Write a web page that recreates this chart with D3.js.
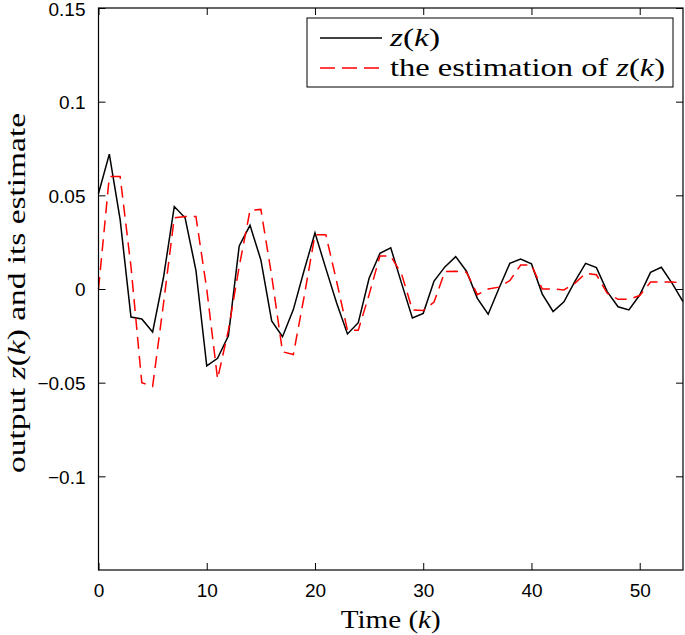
<!DOCTYPE html>
<html>
<head>
<meta charset="utf-8">
<script src="https://cdn.jsdelivr.net/npm/d3@7"></script>
<style>
html,body{margin:0;padding:0;background:#fff;}
svg{display:block;}
</style>
</head>
<body>
<svg id="chart" width="685" height="635"></svg>
<script>
// ---- data ----
const timeSteps = d3.range(0, 55);
const zValues = [0.051,0.072,0.037,-0.015,-0.016,-0.023,0.006,0.044,0.038,0.010,
  -0.041,-0.037,-0.025,0.023,0.034,0.0155,-0.017,-0.0255,-0.011,0.010,
  0.030,0.011,-0.0075,-0.024,-0.018,0.0057,0.019,0.022,0.003,-0.0155,
  -0.0130,0.0042,0.0118,0.0173,0.0095,-0.005,-0.0135,0.0004,0.0137,0.016,
  0.0134,-0.0027,-0.012,-0.0068,0.0039,0.0137,0.0114,-0.0014,-0.0095,-0.0112,
  -0.0032,0.0089,0.0116,0.003,-0.0068];
const zEstimate = [0,0.060,0.060,0.012,-0.050,-0.052,-0.008,0.038,0.0387,0.0387,
  0.000,-0.048,-0.022,0.012,0.042,0.0425,0.007,-0.0335,-0.035,-0.004,
  0.029,0.029,0.004,-0.022,-0.022,-0.003,0.0176,0.0176,0.008,-0.0112,
  -0.0115,-0.007,0.0093,0.0095,0.009,-0.003,0.000,0.001,0.0045,0.0128,
  0.0128,0.000,0.000,-0.0005,0.003,0.0084,0.0076,-0.0023,-0.0055,-0.0055,
  -0.0035,0.0037,0.0037,0.0037,0.0033];
const xTicks = [0,10,20,30,40,50];
const yTicks = [-0.1,-0.05,0,0.05,0.1,0.15];
const yTickLabels = ["\u22120.1","\u22120.05","0","0.05","0.1","0.15"];
const xDomain = [0,54];
const yDomain = [-0.15,0.15];

// ---- layout ----
const svg = d3.select("#chart");
const L = 98.5, R = 683, T = 8, B = 570;
const x = d3.scaleLinear().domain(xDomain).range([L, R]);
const y = d3.scaleLinear().domain(yDomain).range([B, T]);
const tickFont = "'Liberation Sans', Arial, Helvetica, sans-serif";
const serif = "'Liberation Serif', 'DejaVu Serif', serif";
const tickLen = 7;

// axes (box style, ticks inward)
const gx = svg.append("g").attr("transform", `translate(0,${B})`)
  .call(d3.axisBottom(x).tickValues(xTicks).tickSizeInner(-tickLen).tickSizeOuter(0).tickPadding(14).tickFormat(d3.format("d")));
const gxTop = svg.append("g").attr("transform", `translate(0,${T})`)
  .call(d3.axisTop(x).tickValues(xTicks).tickSizeInner(-tickLen).tickSizeOuter(0).tickFormat(""));
const gy = svg.append("g").attr("transform", `translate(${L},0)`)
  .call(d3.axisLeft(y).tickValues(yTicks).tickSizeInner(-tickLen).tickSizeOuter(0).tickPadding(13)
    .tickFormat((d,i) => yTickLabels[i]));
const gyR = svg.append("g").attr("transform", `translate(${R},0)`)
  .call(d3.axisRight(y).tickValues(yTicks).tickSizeInner(-tickLen).tickSizeOuter(0).tickFormat(""));
[gx,gxTop,gy,gyR].forEach(g => {
  g.select(".domain").remove();
  g.selectAll(".tick line").attr("stroke","#000").attr("stroke-width",1);
  g.selectAll(".tick text").attr("fill","#000").style("font-family",tickFont).style("font-size","19px");
});
gy.selectAll(".tick text").attr("dy","0.36em");
gy.selectAll(".tick text").filter(d => d === 0.15).attr("dy","0.42em");

// data lines
const lineZ = d3.line().x((d,i) => x(timeSteps[i])).y(d => y(d));
svg.append("path").datum(zValues).attr("d", lineZ)
  .attr("fill","none").attr("stroke","#000").attr("stroke-width",1.5).attr("stroke-linejoin","miter");
svg.append("path").datum(zEstimate).attr("d", lineZ)
  .attr("fill","none").attr("stroke","#ff0000").attr("stroke-width",1.5).attr("stroke-dasharray","12,7");

// box
svg.append("rect").attr("x",L).attr("y",T).attr("width",R-L).attr("height",B-T)
  .attr("fill","none").attr("stroke","#000").attr("stroke-width",1.2);

// axis labels
const xl = svg.append("text").attr("x",(L+R)/2).attr("y",628).attr("text-anchor","middle")
  .attr("textLength",100).attr("lengthAdjust","spacingAndGlyphs")
  .style("font-family",serif).style("font-size","25px").attr("fill","#000");
xl.append("tspan").text("Time (");
xl.append("tspan").style("font-style","italic").text("k");
xl.append("tspan").text(")");

const yl = svg.append("text").attr("transform",`translate(25,${(113+473)/2}) rotate(-90)`)
  .attr("text-anchor","middle").attr("textLength",360).attr("lengthAdjust","spacingAndGlyphs")
  .style("font-family",serif).style("font-size","25px").attr("fill","#000");
yl.append("tspan").text("output ");
yl.append("tspan").style("font-style","italic").text("z");
yl.append("tspan").text("(");
yl.append("tspan").style("font-style","italic").text("k");
yl.append("tspan").text(") and its estimate");

// legend
const lg = svg.append("g");
lg.append("rect").attr("x",307).attr("y",18).attr("width",366).attr("height",69)
  .attr("fill","#fff").attr("stroke","#000").attr("stroke-width",1);
const legendItems = [
  {label:["", "z", "(", "k", ")"], color:"#000", dash:null, yy:38, w:50},
  {label:["the estimation of ", "z", "(", "k", ")"], color:"#ff0000", dash:"15,7", yy:68, w:275}
];
legendItems.forEach(it => {
  lg.append("line").attr("x1",320).attr("x2",382).attr("y1",it.yy).attr("y2",it.yy)
    .attr("stroke",it.color).attr("stroke-width",1.5).attr("stroke-dasharray",it.dash);
  const t = lg.append("text").attr("x",390).attr("y",it.yy+8)
    .attr("textLength",it.w).attr("lengthAdjust","spacingAndGlyphs")
    .style("font-family",serif).style("font-size","25px").attr("fill","#000");
  it.label.forEach((s,i) => { if (s) t.append("tspan").style("font-style", (i===1||i===3)?"italic":"normal").text(s); });
});
</script>
</body>
</html>
